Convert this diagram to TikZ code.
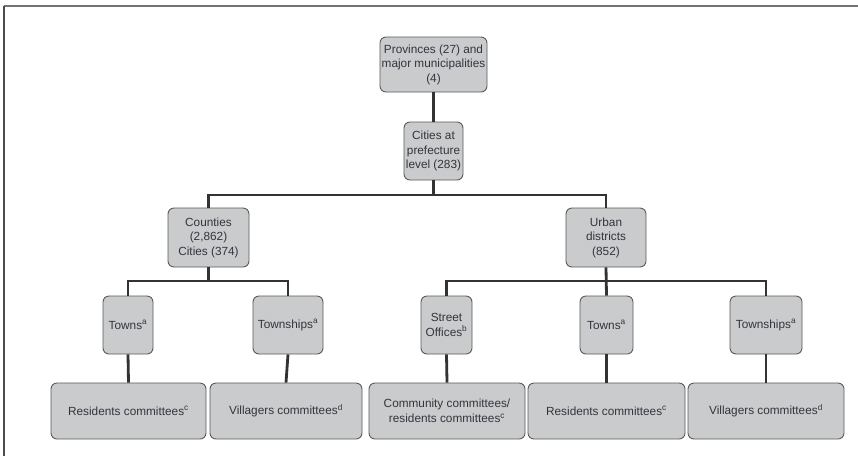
\documentclass[tikz,border=0pt]{standalone}
\usepackage{fontspec}
\setmainfont{Liberation Sans}
\definecolor{boxfill}{HTML}{C9CBCC}
\definecolor{boxline}{HTML}{5A5A5A}
\definecolor{conn}{HTML}{333333}
\definecolor{txt}{HTML}{34343E}
\begin{document}
\begin{tikzpicture}[x=1pt,y=-1pt,
  unit/.style={rectangle, rounded corners=6pt, fill=boxfill, draw=boxline, line width=0.9pt,
    align=center, inner sep=0pt, text=txt,
    font=\fontsize{11.8}{14.5}\selectfont},
  connector/.style={draw=conn, line width=2.8pt, line cap=butt}]
\useasboundingbox (0,0) rectangle (858,456);
\fill[white] (0,0) rectangle (858,456);
% frame
\draw[draw=black!55, line width=2pt] (4,6) -- (858,6);
\draw[draw=black!70, line width=1.6pt] (4,6) -- (4,456);
% nodes
\node[unit, minimum width=107pt, minimum height=55pt] (prov) at (433.5,64.5) {Provinces (27) and\\major municipalities\\(4)};
\node[unit, minimum width=59pt, minimum height=58pt] (cities) at (433.5,151) {Cities at\\prefecture\\level (283)};
\node[unit, minimum width=81pt, minimum height=59pt] (counties) at (208.5,237.5) {Counties\\(2,862)\\Cities (374)};
\node[unit, minimum width=80pt, minimum height=59pt] (urban) at (606,237.5) {Urban\\districts\\(852)};
\node[unit, minimum width=50pt, minimum height=58pt] (townsA) at (128,325) {Towns\textsuperscript{a}};
\node[unit, minimum width=70pt, minimum height=58pt] (twpA) at (288,325) {Townships\textsuperscript{a}};
\node[unit, minimum width=51pt, minimum height=58pt] (street) at (446.5,325) {Street\\Offices\textsuperscript{b}};
\node[unit, minimum width=53pt, minimum height=58pt] (townsB) at (606.5,325) {Towns\textsuperscript{a}};
\node[unit, minimum width=72pt, minimum height=58pt] (twpB) at (766,325) {Townships\textsuperscript{a}};
\node[unit, minimum width=155pt, minimum height=56pt] (resA) at (128.5,411) {Residents committees\textsuperscript{c}};
\node[unit, minimum width=152pt, minimum height=56pt] (vilA) at (286,411) {Villagers committees\textsuperscript{d}};
\node[unit, minimum width=156pt, minimum height=56pt] (comm) at (447,411) {Community committees/\\residents committees\textsuperscript{c}};
\node[unit, minimum width=157pt, minimum height=56pt] (resB) at (606.5,411) {Residents committees\textsuperscript{c}};
\node[unit, minimum width=156pt, minimum height=56pt] (vilB) at (766,411) {Villagers committees\textsuperscript{d}};
% bus coordinates
\coordinate (bus1) at (433.5,195);
\coordinate (bus2) at (208.5,281);
\coordinate (bus3) at (606,281);
% connectors
\draw[connector] (prov.south) -- (cities.north);
\draw[connector] (cities.south) -- (bus1);
\draw[connector] (counties.north) |- (bus1) -| (urban.north);
\draw[connector] (counties.south) -- (bus2);
\draw[connector] (townsA.north) |- (bus2) -| (twpA.north);
\draw[connector] (urban.south) -- (townsB.north);
\draw[connector] (street.north) |- (bus3) -| (twpB.north);
\draw[connector] (townsA.south) -- (resA.north);
\draw[connector] (twpA.south) -- (vilA.north);
\draw[connector] (street.south) -- (comm.north);
\draw[connector] (townsB.south) -- (resB.north);
\draw[connector] (twpB.south) -- (vilB.north);
\end{tikzpicture}
\end{document}
